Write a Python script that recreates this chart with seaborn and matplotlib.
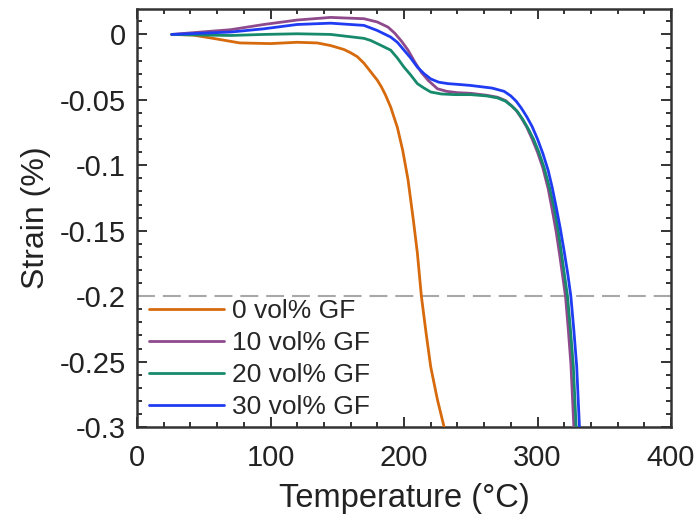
import pandas as pd
import numpy as np
import seaborn as sns
import matplotlib.pyplot as plt
from matplotlib.ticker import MultipleLocator

# Strain vs temperature
temp_0 = [26, 42, 57, 77, 100, 120, 135, 145, 155, 160, 165, 170, 175, 180, 183,
          186, 190, 195, 199, 203, 207, 210, 213, 216.5, 220, 225, 230.5]
strain_0 = [0, -0.0005, -0.003, -0.0065, -0.007, -0.006, -0.0065, -0.0085, -0.0115,
            -0.014, -0.017, -0.022, -0.0285, -0.035, -0.040, -0.046, -0.0555, -0.071,
            -0.0885, -0.111, -0.142, -0.167, -0.200, -0.228, -0.254, -0.279, -0.302]

temp_10 = [26, 50, 70, 95, 120, 145, 170, 180, 188, 193, 198, 203, 208, 213, 218,
           225, 232, 240, 250, 262, 270, 276, 280, 284, 288, 292, 296, 300, 304, 308,
           311, 314, 316.8, 319, 321, 323, 325, 327.3]
strain_10 = [0, 0.002, 0.0036, 0.0076, 0.011, 0.013, 0.012, 0.0095, 0.0056, 0.001,
             -0.005, -0.012, -0.021, -0.029, -0.035, -0.0415, -0.0435, -0.0445, -0.045,
             -0.0465, -0.048, -0.0505, -0.054, -0.058, -0.064, -0.071, -0.080, -0.090,
             -0.102, -0.118, -0.134, -0.151, -0.170, -0.186, -0.2005, -0.225, -0.252,
             -0.302]

temp_20 = [26, 50, 70, 95, 120, 145, 170, 175, 182, 190, 195, 200, 205, 210, 215,
           220, 228, 238, 250, 262, 270, 276, 281, 285, 289, 293, 297, 301, 305, 309,
           312.5, 315.5, 318.3, 320.5, 322.5, 324.7, 326.8, 329]
strain_20 = [0, -0.0005, -0.0008, 0, 0.0005, 0, -0.003, -0.0046, -0.008, -0.012,
             -0.018, -0.025, -0.031, -0.0376, -0.041, -0.044, -0.0455, -0.046, -0.046,
             -0.047, -0.0485, -0.051, -0.055, -0.059, -0.065, -0.072, -0.080, -0.090,
             -0.102, -0.117, -0.133, -0.150, -0.170, -0.186, -0.2005, -0.226, -0.253,
             -0.302]

temp_30 = [26, 50, 70, 95, 120, 145, 170, 180, 190, 195, 200, 205, 210, 215, 220,
           226, 233, 242, 250, 258, 266, 275, 280, 284, 288, 292, 296, 300, 304, 308,
           311, 314, 317, 320, 322.8, 325, 327.2, 329.3, 331.5]
strain_30 = [0, 0.001, 0.0018, 0.0043, 0.0076, 0.0086, 0.0069, 0.003, -0.002, -0.006,
             -0.012, -0.018, -0.025, -0.030, -0.034, -0.0365, -0.0376, -0.0383, -0.039,
             -0.040, -0.041, -0.0435, -0.047, -0.051, -0.0565, -0.063, -0.0705, -0.080,
             -0.091, -0.104, -0.117, -0.132, -0.148, -0.166, -0.184, -0.2005, -0.226,
             -0.253, -0.302]

labels = ["0 vol% GF", "10 vol% GF", "20 vol% GF", "30 vol% GF"]
colors = ["#D66A0C", "#8E4A8C", "#178A6C", "#1F3CF2"]

frames = []
for lab, t, s in zip(labels, [temp_0, temp_10, temp_20, temp_30],
                     [strain_0, strain_10, strain_20, strain_30]):
    frames.append(pd.DataFrame({"Temperature": t, "Strain": s, "Sample": lab}))
df = pd.concat(frames, ignore_index=True)

sns.set_style("ticks")
plt.rcParams["font.family"] = ["Liberation Sans", "DejaVu Sans"]

fig = plt.figure(figsize=(6.99, 5.24), dpi=100)
ax = fig.add_axes([0.196, 0.185, 0.764, 0.798])

ax.axhline(-0.2, color="#a8a8a8", lw=1.5, dashes=(8.6, 3.8), zorder=1)
sns.lineplot(data=df, x="Temperature", y="Strain", hue="Sample", hue_order=labels,
             palette=colors, linewidth=2, sort=False, estimator=None, ax=ax, zorder=3)

ax.set_xlim(0, 400)
ax.set_ylim(-0.3, 0.0195)
ax.xaxis.set_major_locator(MultipleLocator(100))
ax.xaxis.set_minor_locator(MultipleLocator(20))
ax.yaxis.set_major_locator(MultipleLocator(0.05))
ax.yaxis.set_minor_locator(MultipleLocator(0.01))
ax.set_yticks([0, -0.05, -0.1, -0.15, -0.2, -0.25, -0.3])
ax.set_yticklabels(["0", "-0.05", "-0.1", "-0.15", "-0.2", "-0.25", "-0.3"])

for sp in ax.spines.values():
    sp.set_linewidth(1.8)
    sp.set_color("#333333")
ax.tick_params(which="both", direction="in", top=True, right=True, color="#333333",
               labelsize=21, labelcolor="#222222", width=1.4)
ax.tick_params(which="major", length=7, pad=8)
ax.tick_params(axis="x", which="major", pad=12)
ax.tick_params(which="minor", length=3.8)

ax.set_xlabel("Temperature (\u00b0C)", fontsize=23.5, color="#222222", labelpad=8)
ax.set_ylabel("Strain (%)", fontsize=23, color="#222222", labelpad=6)

ax.legend(loc="upper left", bbox_to_anchor=(0.012, 0.318), frameon=False, fontsize=19,
          handlelength=2.85, handletextpad=0.3, labelspacing=0.3, borderaxespad=0,
          borderpad=0.2)

fig.savefig("out.png", dpi=100)
